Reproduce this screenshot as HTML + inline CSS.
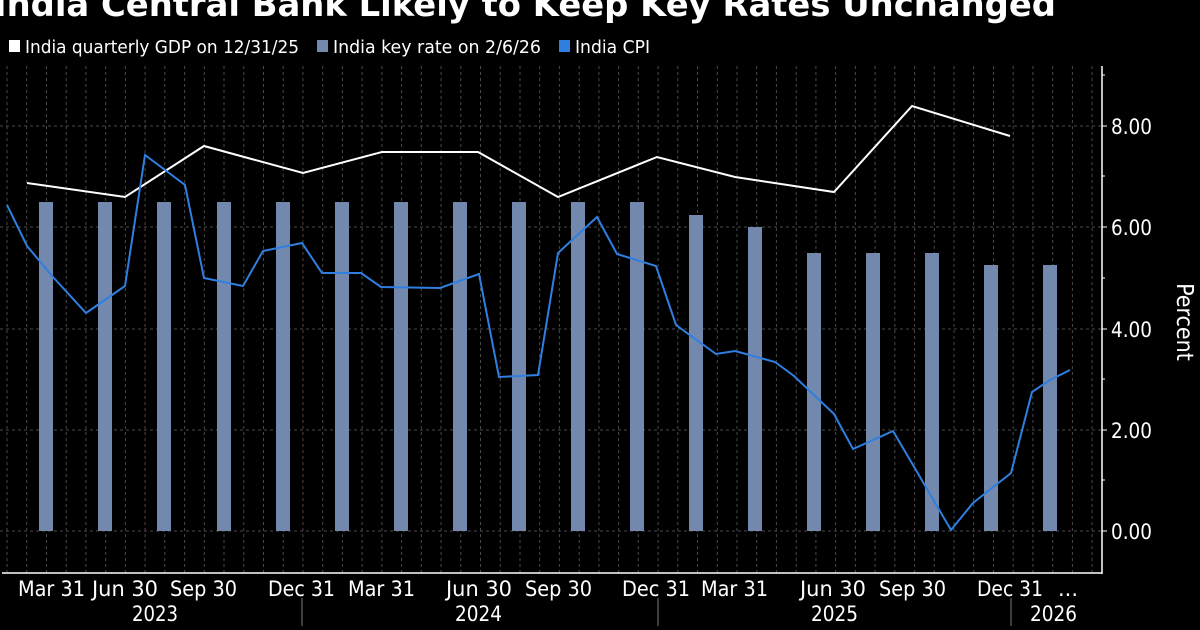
<!DOCTYPE html>
<html><head><meta charset="utf-8"><style>
html,body{margin:0;padding:0;background:#000;}
svg{display:block;font-family:"DejaVu Sans Condensed","DejaVu Sans",sans-serif;}
</style></head><body>
<svg width="1200" height="630" viewBox="0 0 1200 630" xmlns="http://www.w3.org/2000/svg">
<rect width="1200" height="630" fill="#000"/>
<text x="-6" y="16" fill="#fff" font-size="34" font-weight="bold" font-family="DejaVu Sans,sans-serif" textLength="1062" lengthAdjust="spacingAndGlyphs">India Central Bank Likely to Keep Key Rates Unchanged</text>
<rect x="9" y="40" width="11" height="12" fill="#fff"/>
<text x="25" y="53" fill="#fff" font-size="18" textLength="274" lengthAdjust="spacingAndGlyphs">India quarterly GDP on 12/31/25</text>
<rect x="317" y="40" width="11" height="12" fill="#7388ad"/>
<text x="333" y="53" fill="#fff" font-size="18" textLength="208" lengthAdjust="spacingAndGlyphs">India key rate on 2/6/26</text>
<rect x="559" y="40" width="11" height="12" fill="#2f7fe0"/>
<text x="575" y="53" fill="#fff" font-size="18" textLength="75" lengthAdjust="spacingAndGlyphs">India CPI</text>
<g stroke="#4a4a4a" stroke-width="1" stroke-dasharray="3,3">
<line x1="0" y1="126" x2="1102" y2="126"/>
<line x1="0" y1="227" x2="1102" y2="227"/>
<line x1="0" y1="329" x2="1102" y2="329"/>
<line x1="0" y1="430" x2="1102" y2="430"/>
<line x1="0" y1="531" x2="1102" y2="531"/>
<path d="M7 66V573M26.7 66V573M46.5 66V573M66.2 66V573M85.9 66V573M105.7 66V573M125.4 66V573M145.1 66V573M164.8 66V573M184.6 66V573M204.3 66V573M224 66V573M243.8 66V573M263.5 66V573M283.2 66V573M302.9 66V573M322.7 66V573M342.4 66V573M362.1 66V573M381.9 66V573M401.6 66V573M421.3 66V573M441.1 66V573M460.8 66V573M480.5 66V573M500.2 66V573M520 66V573M539.7 66V573M559.4 66V573M579.2 66V573M598.9 66V573M618.6 66V573M638.3 66V573M658.1 66V573M677.8 66V573M697.5 66V573M717.3 66V573M737 66V573M756.7 66V573M776.4 66V573M796.2 66V573M815.9 66V573M835.6 66V573M855.4 66V573M875.1 66V573M894.8 66V573M914.6 66V573M934.3 66V573M954 66V573M973.7 66V573M993.5 66V573M1013.2 66V573M1032.9 66V573M1052.7 66V573M1072.4 66V573M1092.1 66V573"/>
</g>
<g fill="#7388ad">
<rect x="39" y="202" width="14" height="329"/><rect x="98" y="202" width="14" height="329"/>
<rect x="157" y="202" width="14" height="329"/><rect x="217" y="202" width="14" height="329"/>
<rect x="276" y="202" width="14" height="329"/><rect x="335" y="202" width="14" height="329"/>
<rect x="394" y="202" width="14" height="329"/><rect x="453" y="202" width="14" height="329"/>
<rect x="512" y="202" width="14" height="329"/><rect x="571" y="202" width="14" height="329"/>
<rect x="630" y="202" width="14" height="329"/><rect x="689" y="215" width="14" height="316"/>
<rect x="748" y="227" width="14" height="304"/><rect x="807" y="253" width="14" height="278"/>
<rect x="866" y="253" width="14" height="278"/><rect x="925" y="253" width="14" height="278"/>
<rect x="984" y="265" width="14" height="266"/><rect x="1043" y="265" width="14" height="266"/>
</g>
<polyline fill="none" stroke="#fff" stroke-width="2" points="27,183 125,197 204,146 303,173 382,152 478,152 558,197 657,157 735,177 834,192 912,106 1010,136"/>
<polyline fill="none" stroke="#2f7fe0" stroke-width="2" points="7,205 27,246 53,277 86,313 125,286 145,155 185,185 204,278 243,286 263,251 302,243 322,273 361,273 381,287 440,288 479,274 499,377 538,375 558,253 597,217 617,254 656,266 676,325 716,354 735,351 775,362 794,376 834,414 853,449 893,431 913,465 951,530 973,503 1011,473 1032,392 1050,380 1070,370"/>
<g stroke="#fff" stroke-width="1.5">
<line x1="1102" y1="66" x2="1102" y2="574"/>
<line x1="2" y1="573" x2="1102" y2="573"/>
</g>
<g stroke="#fff" stroke-width="1">
<line x1="1102" y1="126" x2="1107" y2="126"/><line x1="1102" y1="227" x2="1107" y2="227"/>
<line x1="1102" y1="329" x2="1107" y2="329"/><line x1="1102" y1="430" x2="1107" y2="430"/>
<line x1="1102" y1="531" x2="1107" y2="531"/>
<line x1="1102" y1="75" x2="1105" y2="75"/><line x1="1102" y1="176" x2="1105" y2="176"/>
<line x1="1102" y1="278" x2="1105" y2="278"/><line x1="1102" y1="379" x2="1105" y2="379"/>
<line x1="1102" y1="480" x2="1105" y2="480"/>
</g>
<g fill="#fff" font-size="21">
<text x="1111" y="134" textLength="41" lengthAdjust="spacingAndGlyphs">8.00</text>
<text x="1111" y="235" textLength="41" lengthAdjust="spacingAndGlyphs">6.00</text>
<text x="1111" y="337" textLength="41" lengthAdjust="spacingAndGlyphs">4.00</text>
<text x="1111" y="438" textLength="41" lengthAdjust="spacingAndGlyphs">2.00</text>
<text x="1111" y="539" textLength="41" lengthAdjust="spacingAndGlyphs">0.00</text>
</g>
<text transform="translate(1177,322) rotate(90)" fill="#fff" font-size="23" text-anchor="middle">Percent</text>
<g stroke="#777" stroke-width="1">
<line x1="302" y1="598" x2="302" y2="626"/><line x1="658" y1="598" x2="658" y2="626"/><line x1="1011" y1="598" x2="1011" y2="626"/>
</g>
<g fill="#fff" font-size="21">
<text x="18" y="596" textLength="67" lengthAdjust="spacingAndGlyphs">Mar 31</text>
<text x="92" y="596" textLength="66" lengthAdjust="spacingAndGlyphs">Jun 30</text>
<text x="170" y="596" textLength="67" lengthAdjust="spacingAndGlyphs">Sep 30</text>
<text x="268" y="596" textLength="67" lengthAdjust="spacingAndGlyphs">Dec 31</text>
<text x="348" y="596" textLength="67" lengthAdjust="spacingAndGlyphs">Mar 31</text>
<text x="446" y="596" textLength="66" lengthAdjust="spacingAndGlyphs">Jun 30</text>
<text x="525" y="596" textLength="67" lengthAdjust="spacingAndGlyphs">Sep 30</text>
<text x="622" y="596" textLength="68" lengthAdjust="spacingAndGlyphs">Dec 31</text>
<text x="701" y="596" textLength="67" lengthAdjust="spacingAndGlyphs">Mar 31</text>
<text x="800" y="596" textLength="66" lengthAdjust="spacingAndGlyphs">Jun 30</text>
<text x="879" y="596" textLength="67" lengthAdjust="spacingAndGlyphs">Sep 30</text>
<text x="977" y="596" textLength="66" lengthAdjust="spacingAndGlyphs">Dec 31</text>
<text x="1058" y="596" textLength="20" lengthAdjust="spacingAndGlyphs">...</text>
<text x="132" y="621" textLength="46" lengthAdjust="spacingAndGlyphs">2023</text>
<text x="455" y="621" textLength="47" lengthAdjust="spacingAndGlyphs">2024</text>
<text x="811" y="621" textLength="47" lengthAdjust="spacingAndGlyphs">2025</text>
<text x="1030" y="621" textLength="47" lengthAdjust="spacingAndGlyphs">2026</text>
</g>
</svg>
</body></html>
